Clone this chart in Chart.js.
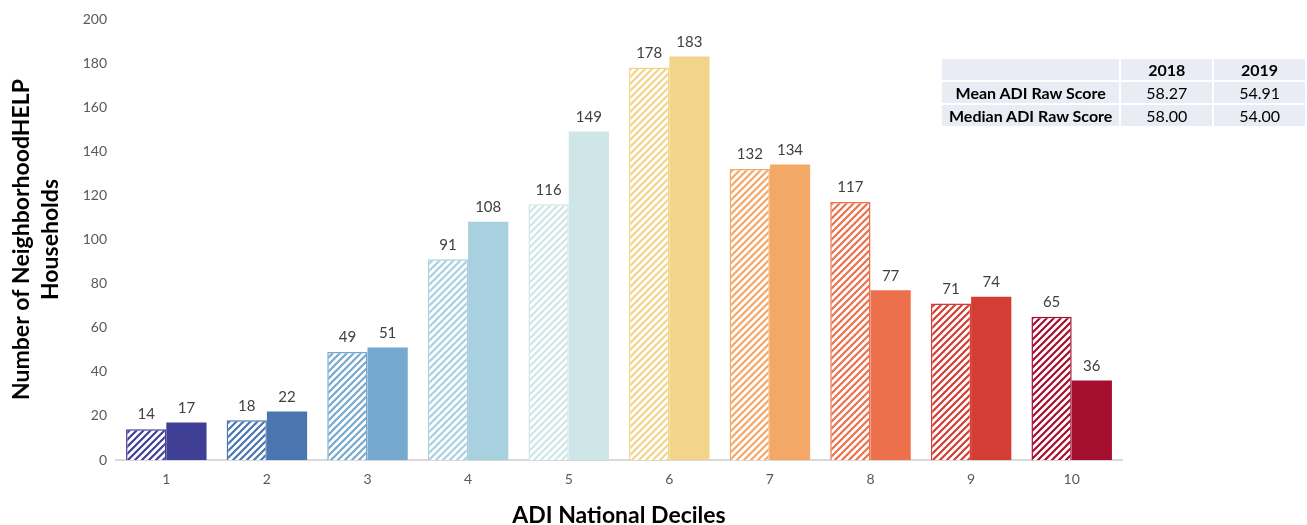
<!DOCTYPE html>
<html lang="en">
<head>
  <meta charset="UTF-8" />
  <title>ADI National Deciles</title>
  <script src="https://cdn.jsdelivr.net/npm/chart.js"></script>
  <style>
    html, body { margin: 0; padding: 0; background: #fff; }
    .wrap { position: relative; width: 1307px; height: 525px; }
    canvas { display: block; }
    .stats {
      position: absolute; left: 940px; top: 57px;
      border-collapse: collapse; font-family: Lato, "Open Sans", sans-serif;
      font-size: 16px; color: #000; white-space: nowrap;
    }
    .stats td, .stats th {
      background: #e9ebf5; height: 21px; padding: 0 4px;
      border: 2px solid #fff; text-align: center;
    }
    .stats th { font-weight: bold; }
    .stats td.lbl { font-weight: bold; width: 170px; }
    .stats td.v, .stats th.v { width: 87px; }
  </style>
</head>
<body>
  <div class="wrap">
    <canvas id="chart" width="1307" height="525"></canvas>
    <table class="stats">
      <tr><th></th><th class="v">2018</th><th class="v">2019</th></tr>
      <tr><td class="lbl">Mean ADI Raw Score</td><td class="v">58.27</td><td class="v">54.91</td></tr>
      <tr><td class="lbl">Median ADI Raw Score</td><td class="v">58.00</td><td class="v">54.00</td></tr>
    </table>
  </div>

  <script>
    const deciles = ['1', '2', '3', '4', '5', '6', '7', '8', '9', '10'];
    const households2018 = [14, 18, 49, 91, 116, 178, 132, 117, 71, 65];
    const households2019 = [17, 22, 51, 108, 149, 183, 134, 77, 74, 36];
    const decileColors = ['#3f3f95', '#4a75ae', '#76a9cf', '#a9d0df', '#cfe6e8',
                          '#f2d58a', '#f4a867', '#ec704c', '#d43d33', '#a50f2f'];
    const yTicks = [0, 20, 40, 60, 80, 100, 120, 140, 160, 180, 200];

    const font = 'Lato, "Open Sans", sans-serif';

    // diagonal stripe pattern for the 2018 bars
    function stripes(color) {
      const c = document.createElement('canvas');
      c.width = 7; c.height = 7;
      const g = c.getContext('2d');
      g.fillStyle = '#fff';
      g.fillRect(0, 0, 7, 7);
      g.strokeStyle = color;
      g.lineWidth = 2.2;
      g.beginPath();
      g.moveTo(-1, 8); g.lineTo(8, -1);
      g.moveTo(-1, 1); g.lineTo(1, -1);
      g.moveTo(6, 8); g.lineTo(8, 6);
      g.stroke();
      return g.createPattern(c, 'repeat');
    }

    const valueLabels = {
      id: 'valueLabels',
      afterDatasetsDraw(chart) {
        const ctx = chart.ctx;
        ctx.save();
        ctx.font = '15px ' + font;
        ctx.fillStyle = '#404040';
        ctx.textAlign = 'center';
        ctx.textBaseline = 'bottom';
        chart.data.datasets.forEach((ds, i) => {
          chart.getDatasetMeta(i).data.forEach((bar, j) => {
            ctx.fillText(ds.data[j], bar.x, bar.y - 7);
          });
        });
        ctx.restore();
      }
    };

    new Chart(document.getElementById('chart'), {
      type: 'bar',
      data: {
        labels: deciles,
        datasets: [
          {
            label: '2018',
            data: households2018,
            backgroundColor: decileColors.map(stripes),
            borderColor: decileColors,
            borderWidth: 1.5,
            categoryPercentage: 0.8,
            barPercentage: 1.0
          },
          {
            label: '2019',
            data: households2019,
            backgroundColor: decileColors,
            borderColor: decileColors,
            borderWidth: 0,
            categoryPercentage: 0.8,
            barPercentage: 1.0
          }
        ]
      },
      options: {
        responsive: false,
        animation: false,
        layout: { padding: { top: 19, right: 185, left: 0, bottom: 0 } },
        plugins: {
          legend: { display: false },
          tooltip: { enabled: false }
        },
        scales: {
          x: {
            afterFit: axis => { axis.height = 65; },
            grid: { display: false },
            border: { color: '#d9d9d9', width: 2 },
            ticks: { color: '#595959', font: { family: font, size: 14 }, padding: 3 },
            title: {
              display: true,
              text: 'ADI National Deciles',
              color: '#000',
              font: { family: font, size: 23, weight: 'bold', lineHeight: 0.8 },
              padding: { top: 10, bottom: 0 }
            }
          },
          y: {
            min: 0,
            max: 200,
            afterBuildTicks: axis => { axis.ticks = yTicks.map(v => ({ value: v })); },
            afterFit: axis => { axis.width = 116; },
            grid: { display: false },
            border: { display: false },
            ticks: { color: '#595959', font: { family: font, size: 14 }, padding: 1 },
            title: {
              display: true,
              text: ['Number of NeighborhoodHELP', 'Households'],
              color: '#000',
              font: { family: font, size: 23, weight: 'bold', lineHeight: 1.22 },
              padding: { top: 8, bottom: 9 }
            }
          }
        }
      },
      plugins: [valueLabels]
    });
  </script>
</body>
</html>
